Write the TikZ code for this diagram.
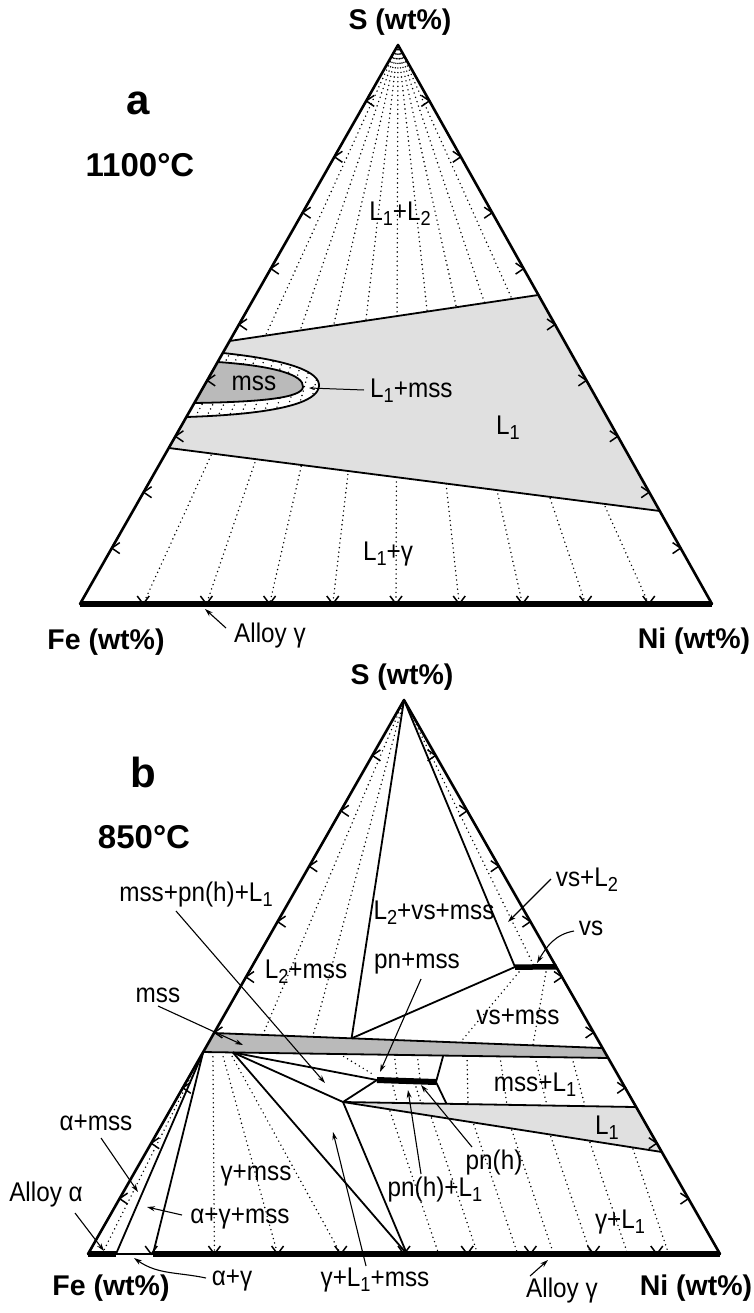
\documentclass[tikz,border=0pt]{standalone}
\usepackage{fontspec}
\setmainfont{Liberation Sans}
\newfontfamily\nar[FakeStretch=0.9]{Liberation Sans}
\usetikzlibrary{calc,arrows.meta}
\newcommand\lsub[1]{\raisebox{-0.35ex}{\scalebox{0.75}{#1}}}
\tikzset{
 edge/.style={line width=2.6pt, line cap=round, line join=round},
 basebar/.style={line width=5.5pt},
 bnd/.style={line width=1.8pt, line join=round},
 tie/.style={line width=1.6pt, line cap=round, dash pattern=on 0pt off 4.6pt},
 tk/.style={line width=1.5pt},
 lb/.style={font=\nar\fontsize{27}{29}\selectfont, inner sep=0pt},
 hd/.style={font=\bfseries\fontsize{28.5}{31}\selectfont, inner sep=0pt},
 tmp/.style={font=\bfseries\fontsize{33}{36}\selectfont, inner sep=0pt},
 big/.style={font=\bfseries\fontsize{42}{44}\selectfont, inner sep=0pt},
 arr/.style={line width=1.1pt, -{Stealth[length=8pt,width=5pt]}},
 lgrey/.style={fill=black!12},
 dgrey/.style={fill=black!27},
}
\begin{document}
\begin{tikzpicture}[x=1pt,y=-1pt]
\useasboundingbox[fill=white] (0,0) rectangle (753,1313);
% ================= panel a =================
\coordinate (Sa) at (398,45);
\coordinate (Fa) at (80,604);
\coordinate (Na) at (712,604);
\coordinate (ua1) at ($(Sa)!0.5295!(Fa)$);
\coordinate (ua2) at ($(Sa)!0.4472!(Na)$);
\coordinate (la1) at ($(Sa)!0.7209!(Fa)$);
\coordinate (la2) at ($(Sa)!0.8336!(Na)$);
\coordinate (lo1) at (222.8,353);
\coordinate (lo2) at (186.4,417);
\coordinate (li1) at (217.7,362);
\coordinate (li2) at (194.3,403);
\foreach \k in {1,...,9} \draw[tie] (Sa) -- ($(Fa)!\k/10!(Na)$);
\fill[lgrey] (ua1) -- (ua2) -- (la2) -- (la1) -- cycle;
\fill[white] (lo1) .. controls (290,360) and (320,372) .. (319,386) .. controls (318,402) and (280,414) .. (lo2) -- cycle;
\begin{scope}
 \clip (lo1) .. controls (290,360) and (320,372) .. (319,386) .. controls (318,402) and (280,414) .. (lo2) -- cycle;
 \foreach \x in {199,210,...,320} \draw[tie] (Sa) -- ($(Sa)!1.3!(\x,410)$);
\end{scope}
\fill[dgrey] (li1) .. controls (275,366) and (304,375) .. (303,387) .. controls (302,398) and (260,402) .. (li2) -- cycle;
\draw[bnd] (lo1) .. controls (290,360) and (320,372) .. (319,386) .. controls (318,402) and (280,414) .. (lo2);
\draw[bnd] (li1) .. controls (275,366) and (304,375) .. (303,387) .. controls (302,398) and (260,402) .. (li2);
\draw[bnd] (ua1) -- (ua2);
\draw[bnd] (la1) -- (la2);
\draw[edge] (Fa) -- (Sa) -- (Na);
\draw[basebar] (Fa) -- (Na);
\foreach \k in {1,...,9}{
 \coordinate (p) at ($(Sa)!\k/10!(Fa)$);
 \draw[tk] ($(p)+(8,-5.5)$) -- (p) -- ($(p)+(8,5.5)$);
 \coordinate (p) at ($(Sa)!\k/10!(Na)$);
 \draw[tk] ($(p)+(-8,-5.5)$) -- (p) -- ($(p)+(-8,5.5)$);
 \coordinate (p) at ($(Fa)!\k/10!(Na)$);
 \draw[tk] ($(p)+(-6,-8)$) -- (p) -- ($(p)+(6,-8)$);
}
\node[hd] (SLa) at (400,22) {S (wt\%)};
\node[big] (la) at (138,103) {a};
\node[tmp] (Ta) at (140,165) {1100°C};
\node[lb] (L12) at (400,214) {L\lsub1+L\lsub2};
\node[lb] (mssa) at (254,383) {mss};
\node[lb,anchor=west] (L1mss) at (370,391) {L\lsub1+mss};
\coordinate (L1mssT) at (309,388);
\draw[line width=1pt,-{Stealth[length=5pt,width=3.5pt]}] (L1mss.west) ++(-6,-1) -- (L1mssT);
\node[lb] (L1a) at (508,428) {L\lsub1};
\node[lb] (L1g) at (388,554) {L\lsub1+γ};
\node[hd] (Fela) at (106,642) {Fe (wt\%)};
\node[hd] (Nila) at (694,641) {Ni (wt\%)};
\node[lb] (Aga) at (270,636) {Alloy γ};
\coordinate (AgaT) at (205,609);
\coordinate (AgaF) at (226,628);
\draw[arr] (AgaF) -- (AgaT);
% ================= panel b =================
\coordinate (Sb) at (404,700);
\coordinate (Fb) at (88,1254);
\coordinate (Nb) at (720,1254);
\coordinate (BT1) at ($(Sb)!0.6011!(Fb)$);
\coordinate (BT2) at ($(Sb)!0.6282!(Nb)$);
\coordinate (BB1) at ($(Sb)!0.6354!(Fb)$);
\coordinate (BB2) at ($(Sb)!0.6462!(Nb)$);
\coordinate (Q) at ($(BT1)!0.354!(BT2)$);
\coordinate (M) at ($(BB1)!0.0733!(BB2)$);
\coordinate (BBR) at ($(BB1)!0.5927!(BB2)$);
\coordinate (V1) at (515,967);
\coordinate (V2) at ($(Sb)!0.4819!(Nb)$);
\coordinate (L) at (377,1080);
\coordinate (R) at (436,1082);
\coordinate (P) at (343,1102);
\coordinate (E1) at ($(Sb)!0.7347!(Nb)$);
\coordinate (E2) at ($(Sb)!0.8159!(Nb)$);
\coordinate (RD) at ($(P)!0.353!(E1)$);
\coordinate (G) at ($(Fb)!0.5047!(Nb)$);
\coordinate (A1) at ($(Fb)!0.0443!(Nb)$);
\coordinate (A2) at ($(Fb)!0.1028!(Nb)$);
% tie lines
\draw[tie] (Sb) -- ($(BT1)!0.1255!(BT2)$);
\draw[tie] (Sb) -- ($(BT1)!0.2538!(BT2)$);
\draw[tie] (Sb) -- ($(V1)!0.473!(V2)$);
\draw[tie] (519,972) -- ($(BT1)!0.6336!(BT2)$);
\draw[tie] (546,972) -- ($(BT1)!0.8207!(BT2)$);
\draw[tie] (BB1) -- ($(Fb)!0.0222!(Nb)$);
\draw[tie] ($(BB1)!0.024!(BB2)$) -- ($(Fb)!0.2!(Nb)$);
\draw[tie] ($(BB1)!0.0463!(BB2)$) -- ($(Fb)!0.3!(Nb)$);
\draw[tie] ($(BB1)!0.066!(BB2)$) -- ($(Fb)!0.4!(Nb)$);
\draw[tie] ($(BB1)!0.337!(BB2)$) -- (374,1075);
\draw[tie] ($(BB1)!0.472!(BB2)$) -- (397,1078);
\draw[tie] ($(BB1)!0.5287!(BB2)$) -- (420,1079);
\draw[tie] (393,1086) -- (397,1102);
\draw[tie] (416,1087) -- (421,1103);
\draw[tie] (467,1056) -- (468,1104);
\draw[tie] (500,1056.5) -- (507,1105);
\draw[tie] (535,1057) -- (547,1105.5);
\draw[tie] (572,1057.5) -- (585,1106);
\foreach \b/\tx/\ty in {438/390/1111, 477/431.5/1118, 517/473.8/1124.5, 553/511.7/1130, 590/550.8/1136.5, 627/590/1142.5, 668/633/1149}
 \draw[tie] (\tx,\ty) -- (\b,1252);
% fills
\fill[dgrey] (BT1) -- (BT2) -- (BB2) -- (BB1) -- cycle;
\fill[lgrey] (P) -- (E1) -- (E2) -- cycle;
% boundaries
\draw[bnd] (BT1) -- (BT2);
\draw[bnd] (BB1) -- (BB2);
\draw[bnd] (Sb) -- (Q);
\draw[bnd] (Sb) -- (V1);
\draw[bnd] (V1) -- (Q);
\draw[bnd] (M) -- (L);
\draw[bnd] (M) -- (P);
\draw[bnd] (M) -- (G);
\draw[bnd] (P) -- (L);
\draw[bnd] (P) -- (G);
\draw[bnd] (P) -- (E1);
\draw[bnd] (P) -- (E2);
\draw[bnd] (R) -- (BBR);
\draw[bnd] (R) -- (RD);
\draw[bnd] (BB1) -- (A1);
\draw[bnd] (BB1) -- (A2);
\draw[line width=5.5pt] (V1) -- (V2);
\draw[line width=6pt] (L) -- (R);
\draw[edge] (Fb) -- (Sb) -- (Nb);
\draw[basebar] (Fb) -- (A1);
\draw[line width=2.2pt] (A1) -- (A2);
\draw[basebar] (A2) -- (Nb);
\foreach \k in {1,...,9}{
 \coordinate (p) at ($(Sb)!\k/10!(Fb)$);
 \draw[tk] ($(p)+(8,-5.5)$) -- (p) -- ($(p)+(8,5.5)$);
 \coordinate (p) at ($(Sb)!\k/10!(Nb)$);
 \draw[tk] ($(p)+(-8,-5.5)$) -- (p) -- ($(p)+(-8,5.5)$);
 \coordinate (p) at ($(Fb)!\k/10!(Nb)$);
 \draw[tk] ($(p)+(-6,-8)$) -- (p) -- ($(p)+(6,-8)$);
}
% labels
\node[hd] (SLb) at (402,677) {S (wt\%)};
\node[big] (lbb) at (143,772) {b};
\node[tmp] (Tb) at (144,837) {850°C};
\node[lb] (mpl) at (196,895) {mss+pn(h)+L\lsub1};
\node[lb] (l2m) at (306,972) {L\lsub2+mss};
\node[lb] (l2vm) at (434,913) {L\lsub2+vs+mss};
\node[lb] (vsl2) at (587,880) {vs+L\lsub2};
\node[lb] (vs) at (591,928) {vs};
\node[lb] (pnm) at (417,963) {pn+mss};
\node[lb] (vsm) at (518,1017) {vs+mss};
\node[lb] (mssb) at (158,995) {mss};
\node[lb] (ml1) at (535,1085) {mss+L\lsub1};
\node[lb] (L1b) at (607,1128) {L\lsub1};
\node[lb] (pnh) at (494,1163) {pn(h)};
\node[lb] (pnhl) at (435,1190) {pn(h)+L\lsub1};
\node[lb] (gl1) at (620,1222) {γ+L\lsub1};
\node[lb] (gm) at (256,1175) {γ+mss};
\node[lb] (am) at (96,1123) {α+mss};
\node[lb] (Aa) at (46,1195) {Alloy α};
\node[lb] (agm) at (240,1218) {α+γ+mss};
\node[lb] (ag) at (232,1280) {α+γ};
\node[lb] (glm) at (375,1280) {γ+L\lsub1+mss};
\node[lb] (Agb) at (562,1291) {Alloy γ};
\node[hd] (Felb) at (111,1288) {Fe (wt\%)};
\node[hd] (Nilb) at (696,1288) {Ni (wt\%)};
% arrows
\coordinate (mplF) at (176,911); \coordinate (mplT) at (325,1083);
\draw[arr] (mplF) -- (mplT);
\coordinate (vsl2F) at (551,879); \coordinate (vsl2T) at (508,922);
\draw[arr] (vsl2F) -- (vsl2T);
\coordinate (vsF) at (574,931); \coordinate (vsT) at (537,963);
\draw[arr] (vsF) to[out=190,in=60] (vsT);
\coordinate (pnmF) at (421,979); \coordinate (pnmT) at (380,1072);
\draw[arr] (pnmF) -- (pnmT);
\coordinate (mssF) at (158,1006); \coordinate (mssT) at (243,1045);
\draw[arr] (mssF) -- (mssT);
\coordinate (pnhF) at (472,1147); \coordinate (pnhT) at (421,1085);
\draw[arr] (pnhF) -- (pnhT);
\coordinate (pnhlF) at (421,1174); \coordinate (pnhlT) at (408,1090);
\draw[arr] (pnhlF) -- (pnhlT);
\coordinate (amF) at (101,1138); \coordinate (amT) at (138,1192);
\draw[arr] (amF) -- (amT);
\coordinate (AaF) at (75,1213); \coordinate (AaT) at (104,1251);
\draw[arr] (AaF) -- (AaT);
\coordinate (agmF) at (182,1215); \coordinate (agmT) at (147,1207);
\draw[arr] (agmF) -- (agmT);
\coordinate (agF) at (206,1278); \coordinate (agT) at (134,1258);
\draw[arr] (agF) to[out=168,in=-35] (agT);
\coordinate (glmF) at (366,1266); \coordinate (glmT) at (333,1132);
\draw[arr] (glmF) -- (glmT);
\coordinate (AgbF) at (530,1276); \coordinate (AgbT) at (548,1260);
\draw[arr] (AgbF) -- (AgbT);
\end{tikzpicture}
\end{document}
